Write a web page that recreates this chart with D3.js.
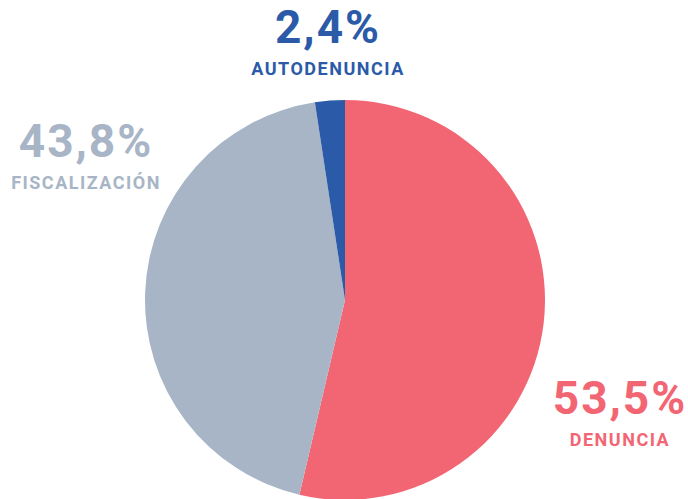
<!DOCTYPE html>
<html>
<head>
<script src="https://d3js.org/d3.v7.min.js"></script>
<style>
  body { margin: 0; background: #fff; }
  text { font-family: Roboto, "Open Sans", sans-serif; font-weight: 700; }
</style>
</head>
<body>
<svg width="688" height="499"></svg>
<script>
// datos
const categorias = ["DENUNCIA", "FISCALIZACIÓN", "AUTODENUNCIA"];
const valores = [53.5, 43.8, 2.4];
const etiquetas = ["53,5%", "43,8%", "2,4%"];
const colores = ["#f26674", "#a7b5c6", "#2b5ba8"];

const svg = d3.select("svg");
const cx = 345, cy = 300, r = 200;

const pie = d3.pie().sort(null).value(d => d)(valores);
const arc = d3.arc().innerRadius(0).outerRadius(r);

const g = svg.append("g").attr("transform", `translate(${cx},${cy})`);
g.selectAll("path")
  .data(pie)
  .join("path")
  .attr("d", arc)
  .attr("fill", (d, i) => colores[i]);

// posiciones de etiquetas (fuera del pastel)
const pos = [[620, 414], [86, 157], [328, 43]];
const lab = svg.append("g");
categorias.forEach((c, i) => {
  lab.append("text")
    .attr("x", pos[i][0]).attr("y", pos[i][1])
    .attr("text-anchor", "middle")
    .attr("fill", colores[i])
    .style("font-size", "46px")
    .style("letter-spacing", "2px")
    .text(etiquetas[i]);
  lab.append("text")
    .attr("x", pos[i][0]).attr("y", pos[i][1] + 32)
    .attr("text-anchor", "middle")
    .attr("fill", colores[i])
    .style("font-size", "18px")
    .style("letter-spacing", "1.5px")
    .text(c);
});
</script>
</body>
</html>
